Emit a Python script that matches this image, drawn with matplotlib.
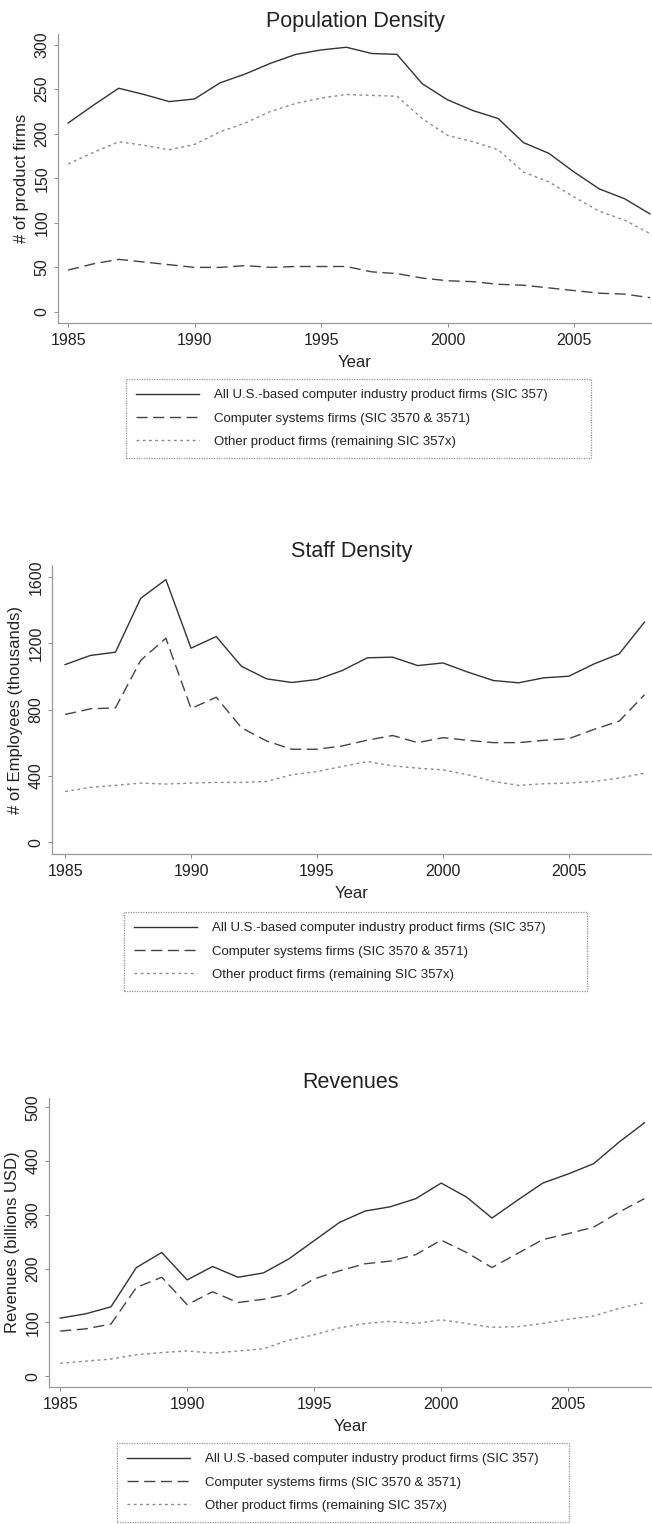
import matplotlib
matplotlib.use("Agg")
import matplotlib.pyplot as plt

plt.rcParams['font.family'] = ['Liberation Sans', 'DejaVu Sans']

years = list(range(1985, 2009))

# Population density (# of product firms)
pop_all = [212, 232, 251, 244, 236, 239, 257, 267, 279, 289, 294, 297,
           290, 289, 256, 238, 226, 217, 190, 178, 157, 138, 127, 110]
pop_sys = [47, 54, 59, 56, 53, 50, 50, 52, 50, 51, 51, 51,
           45, 43, 38, 35, 34, 31, 30, 27, 24, 21, 20, 16]
pop_oth = [166, 179, 191, 187, 182, 188, 202, 212, 225, 234, 240, 244,
           243, 242, 217, 198, 191, 182, 157, 146, 129, 113, 103, 88]

# Staff density (# of employees, thousands)
staff_all = [1071, 1126, 1146, 1471, 1584, 1170, 1240, 1061, 985, 963, 981, 1035,
             1112, 1116, 1065, 1081, 1025, 975, 961, 991, 1001, 1075, 1136, 1327]
staff_sys = [770, 804, 810, 1096, 1230, 806, 874, 690, 610, 560, 560, 580,
             615, 643, 600, 630, 614, 600, 600, 614, 624, 680, 730, 889]
staff_oth = [305, 330, 342, 356, 350, 356, 360, 360, 366, 406, 426, 456,
             486, 460, 446, 436, 406, 366, 342, 352, 356, 366, 386, 416]

# Revenues (billions USD)
rev_all = [108, 116, 129, 202, 230, 179, 204, 184, 192, 218, 252, 286,
           307, 315, 330, 359, 333, 294, 327, 359, 376, 395, 435, 471]
rev_sys = [84, 88, 97, 165, 184, 133, 157, 137, 143, 153, 181, 196,
           209, 214, 226, 253, 230, 202, 228, 254, 265, 277, 305, 330]
rev_oth = [24, 28, 32, 40, 44, 47, 43, 47, 51, 67, 77, 90,
           98, 102, 98, 105, 98, 91, 92, 98, 106, 112, 126, 137]

labels = ["All U.S.-based computer industry product firms (SIC 357)",
          "Computer systems firms (SIC 3570 & 3571)",
          "Other product firms (remaining SIC 357x)"]

W, H = 652, 1524
fig = plt.figure(figsize=(W / 100, H / 100), dpi=100)


def px_axes(left, top, bottom, right=652):
    return fig.add_axes([left / W, 1 - bottom / H, (right - left) / W, (bottom - top) / H])


panels = [
    dict(title="Population Density", ylabel="# of product firms",
         data=(pop_all, pop_sys, pop_oth), yticks=[0, 50, 100, 150, 200, 250, 300],
         left=58, top=33, bottom=323, xlim=(1984.6, 2008.08), ylim=(-12.4, 313),
         title_y=21, legend=(126, 379, 591)),
    dict(title="Staff Density", ylabel="# of Employees (thousands)",
         data=(staff_all, staff_sys, staff_oth), yticks=[0, 400, 800, 1200, 1600],
         left=52, top=565, bottom=854, xlim=(1984.48, 2008.3), ylim=(-72, 1672),
         title_y=552, legend=(124, 912, 587)),
    dict(title="Revenues", ylabel="Revenues (billions USD)",
         data=(rev_all, rev_sys, rev_oth), yticks=[0, 100, 200, 300, 400, 500],
         left=49, top=1097, bottom=1387, xlim=(1984.56, 2008.3), ylim=(-20, 519),
         title_y=1083, legend=(117, 1443, 569)),
]

styles = [dict(color="#333333", linestyle="-", linewidth=1.0),
          dict(color="#444444", linestyle=(0, (8, 4)), linewidth=1.0),
          dict(color="#8a8a8a", linestyle=(0, (2, 2.5)), linewidth=1.0)]

for p in panels:
    ax = px_axes(p["left"], p["top"], p["bottom"])
    lines = []
    for series, st in zip(p["data"], styles):
        ln, = ax.plot(years, series, **st)
        lines.append(ln)
    ax.set_xlim(*p["xlim"])
    ax.set_ylim(*p["ylim"])
    ax.set_xticks([1985, 1990, 1995, 2000, 2005])
    ax.set_yticks(p["yticks"])
    for side in ("top", "right"):
        ax.spines[side].set_visible(False)
    for side in ("left", "bottom"):
        ax.spines[side].set_color("#999999")
        ax.spines[side].set_linestyle((0, (1, 1)))
        ax.spines[side].set_linewidth(0.9)
    ax.tick_params(axis="both", colors="#777777", length=3, width=0.6, labelcolor="#222222",
                   labelsize=11.5)
    plt.setp(ax.get_yticklabels(), rotation=90, va="center")
    ax.tick_params(axis="y", pad=3)
    ax.tick_params(axis="x", pad=4)
    ax.set_xlabel("Year", fontsize=12, color="#222222", labelpad=5)
    ax.set_ylabel(p["ylabel"], fontsize=12, color="#222222", labelpad=4)
    fig.text((p["left"] + 652) / 2 / W, 1 - p["title_y"] / H, p["title"],
             ha="center", va="center", fontsize=15.5, color="#222222")
    lx0, ly0, lx1 = p["legend"]
    leg = fig.legend(lines, labels, loc="upper left",
                     bbox_to_anchor=(lx0 / W, 1 - (ly0 + 80) / H, (lx1 - lx0) / W, 80 / H),
                     mode="expand", fontsize=9.5, frameon=True, fancybox=False,
                     handlelength=4.8, handletextpad=1.1, labelspacing=0.85,
                     borderpad=0.75, borderaxespad=0)
    fr = leg.get_frame()
    fr.set_edgecolor("#777777")
    fr.set_linestyle((0, (1, 1)))
    fr.set_linewidth(0.9)
    for t in leg.get_texts():
        t.set_color("#222222")

fig.savefig("out.png", dpi=100)
